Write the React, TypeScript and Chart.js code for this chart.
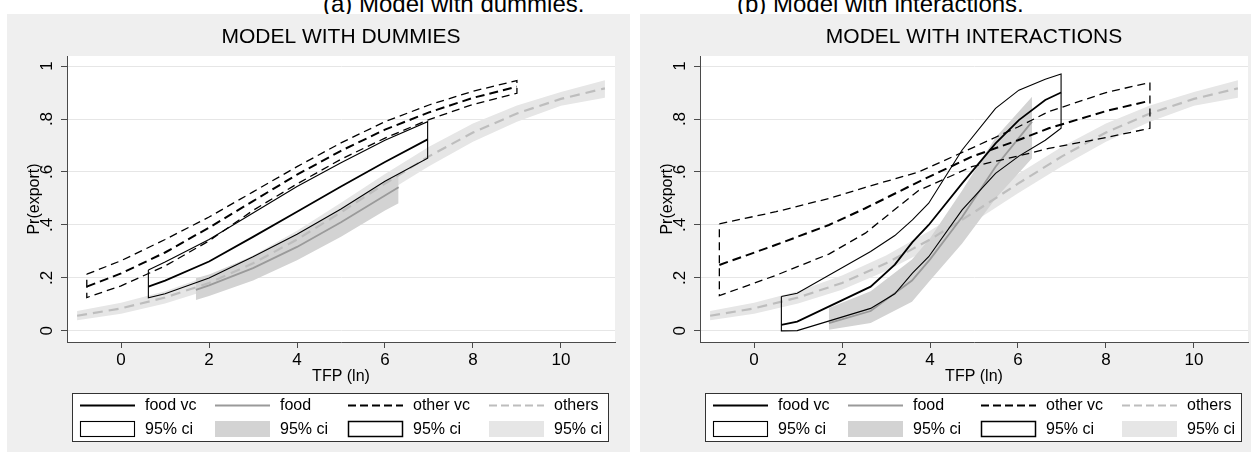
import React, { useEffect, useRef } from "react";
import { Chart, registerables } from "chart.js";

Chart.register(...registerables);

const FONT = "'Liberation Sans', Arial, Helvetica, sans-serif";

// ---------- axes ----------
const xTicks = [0, 2, 4, 6, 8, 10];
const yTicks = [0, 0.2, 0.4, 0.6, 0.8, 1];
const yTickLabels = ["0", ".2", ".4", ".6", ".8", "1"];

// ---------- shared: others (baseline group) ----------
const othersX = [-1, 0, 1, 2, 3, 4, 5, 6, 7, 8, 9, 10, 11];
const othersMid = [0.057, 0.085, 0.126, 0.181, 0.255, 0.345, 0.448, 0.556, 0.659, 0.749, 0.821, 0.876, 0.916];
const othersLo = [0.04, 0.065, 0.103, 0.155, 0.226, 0.312, 0.412, 0.52, 0.622, 0.714, 0.79, 0.85, 0.88];
const othersHi = [0.075, 0.106, 0.15, 0.209, 0.285, 0.378, 0.484, 0.592, 0.695, 0.783, 0.851, 0.902, 0.946];

// ---------- panel (a): model with dummies ----------
const dumFoodVcX = [0.62, 1, 2, 3, 4, 5, 6, 6.97];
const dumFoodVcMid = [0.167, 0.19, 0.262, 0.355, 0.45, 0.545, 0.638, 0.723];
const dumFoodVcLo = [0.125, 0.14, 0.2, 0.28, 0.365, 0.46, 0.565, 0.652];
const dumFoodVcHi = [0.23, 0.26, 0.345, 0.445, 0.545, 0.635, 0.72, 0.79];

const dumFoodX = [1.7, 2, 3, 4, 5, 6, 6.31];
const dumFoodMid = [0.155, 0.172, 0.237, 0.317, 0.41, 0.511, 0.542];
const dumFoodLo = [0.117, 0.132, 0.19, 0.267, 0.355, 0.455, 0.482];
const dumFoodHi = [0.199, 0.213, 0.282, 0.365, 0.46, 0.562, 0.589];

const dumOtherVcX = [-0.78, 0, 1, 2, 3, 4, 5, 6, 7, 8, 9];
const dumOtherVcMid = [0.167, 0.217, 0.296, 0.39, 0.49, 0.59, 0.68, 0.76, 0.825, 0.88, 0.922];
const dumOtherVcLo = [0.126, 0.17, 0.245, 0.34, 0.455, 0.555, 0.648, 0.728, 0.798, 0.855, 0.897];
const dumOtherVcHi = [0.214, 0.265, 0.345, 0.43, 0.525, 0.62, 0.71, 0.79, 0.853, 0.905, 0.945];

// ---------- panel (b): model with interactions ----------
const intFoodVcX = [0.62, 0.98, 2.65, 3.2, 3.6, 3.97, 4.73, 5.49, 6.02, 6.62, 6.98];
const intFoodVcMid = [0.023, 0.035, 0.167, 0.25, 0.335, 0.4, 0.557, 0.708, 0.796, 0.872, 0.9];
const intFoodVcLo = [0.0, 0.001, 0.085, 0.14, 0.218, 0.28, 0.457, 0.595, 0.66, 0.72, 0.765];
const intFoodVcHi = [0.13, 0.142, 0.3, 0.36, 0.419, 0.482, 0.683, 0.84, 0.909, 0.95, 0.97];

const intFoodX = [1.7, 2.65, 3.59, 4.0, 4.73, 5.49, 6.32];
const intFoodMid = [0.029, 0.075, 0.19, 0.27, 0.43, 0.62, 0.79];
const intFoodLo = [0.004, 0.03, 0.11, 0.19, 0.33, 0.5, 0.652];
const intFoodHi = [0.086, 0.15, 0.27, 0.35, 0.53, 0.73, 0.884];

const intOtherVcX = [-0.79, 0.5, 1.7, 2.53, 3.74, 4.95, 6, 6.7, 8, 9];
const intOtherVcMid = [0.249, 0.325, 0.4, 0.463, 0.563, 0.658, 0.72, 0.765, 0.83, 0.869];
const intOtherVcLo = [0.133, 0.21, 0.29, 0.369, 0.53, 0.62, 0.66, 0.689, 0.73, 0.765];
const intOtherVcHi = [0.404, 0.45, 0.5, 0.542, 0.6, 0.69, 0.77, 0.828, 0.9, 0.938];

// ---------- legend ----------
const legendLabels = ["food vc", "food", "other vc", "others"];
const ciLabel = "95% ci";

const COLORS = {
  panel: "#efefef",
  grid: "#e6e6e6",
  axis: "#4a4a4a",
  foodLine: "#9a9a9a",
  foodBand: "#d3d3d3",
  othersLine: "#bdbdbd",
  othersBand: "#e6e6e6",
};

type P = { x: number; y: number };
const pts = (xs: number[], ys: number[]): P[] => xs.map((x, i) => ({ x, y: ys[i] }));
const outline = (xs: number[], lo: number[], hi: number[]): P[] => {
  const p = pts(xs, hi);
  for (let i = xs.length - 1; i >= 0; i--) p.push({ x: xs[i], y: lo[i] });
  p.push({ x: xs[0], y: hi[0] });
  return p;
};

type PanelData = {
  title: string;
  fvcX: number[]; fvcMid: number[]; fvcLo: number[]; fvcHi: number[];
  fX: number[]; fMid: number[]; fLo: number[]; fHi: number[];
  ovcX: number[]; ovcMid: number[]; ovcLo: number[]; ovcHi: number[];
};

const panels: PanelData[] = [
  {
    title: "MODEL WITH DUMMIES",
    fvcX: dumFoodVcX, fvcMid: dumFoodVcMid, fvcLo: dumFoodVcLo, fvcHi: dumFoodVcHi,
    fX: dumFoodX, fMid: dumFoodMid, fLo: dumFoodLo, fHi: dumFoodHi,
    ovcX: dumOtherVcX, ovcMid: dumOtherVcMid, ovcLo: dumOtherVcLo, ovcHi: dumOtherVcHi,
  },
  {
    title: "MODEL WITH INTERACTIONS",
    fvcX: intFoodVcX, fvcMid: intFoodVcMid, fvcLo: intFoodVcLo, fvcHi: intFoodVcHi,
    fX: intFoodX, fMid: intFoodMid, fLo: intFoodLo, fHi: intFoodHi,
    ovcX: intOtherVcX, ovcMid: intOtherVcMid, ovcLo: intOtherVcLo, ovcHi: intOtherVcHi,
  },
];

function line(data: P[], color: string, width: number, dash: number[] = []) {
  return {
    data,
    showLine: true,
    borderColor: color,
    borderWidth: width,
    borderDash: dash,
    pointRadius: 0,
    pointHoverRadius: 0,
    fill: false,
    tension: 0,
  };
}

function buildDatasets(p: PanelData) {
  const none = "rgba(0,0,0,0)";
  return [
    line(pts(p.fvcX, p.fvcMid), "#000", 1.8),
    line(outline(p.fvcX, p.fvcLo, p.fvcHi), "#000", 1.1),
    line(pts(p.ovcX, p.ovcMid), "#000", 2, [9, 5]),
    line(outline(p.ovcX, p.ovcLo, p.ovcHi), "#000", 1.3, [8, 5]),
    line(pts(p.fX, p.fMid), COLORS.foodLine, 1.8),
    line(pts(othersX, othersMid), COLORS.othersLine, 2.2, [10, 6]),
    line(pts(p.fX, p.fLo), none, 0),
    { ...line(pts(p.fX, p.fHi), none, 0), fill: "-1", backgroundColor: COLORS.foodBand },
    line(pts(othersX, othersLo), none, 0),
    { ...line(pts(othersX, othersHi), none, 0), fill: "-1", backgroundColor: COLORS.othersBand },
  ];
}

function drawLegend(ctx: CanvasRenderingContext2D) {
  const L = 65, T = 379, R = 601, B = 427;
  const row1 = 391, row2 = 415;
  const cols = [73, 208, 341, 482];
  const sw = 55;
  ctx.save();
  ctx.fillStyle = "#fff";
  ctx.fillRect(L, T, R - L, B - T);
  ctx.strokeStyle = "#333";
  ctx.lineWidth = 1;
  ctx.strokeRect(L + 0.5, T + 0.5, R - L, B - T);

  const styles = [
    { color: "#000", width: 1.8, dash: [] as number[] },
    { color: COLORS.foodLine, width: 1.8, dash: [] as number[] },
    { color: "#000", width: 2, dash: [8, 4] },
    { color: COLORS.othersLine, width: 2, dash: [8, 4] },
  ];
  cols.forEach((cx, i) => {
    const s = styles[i];
    ctx.strokeStyle = s.color;
    ctx.lineWidth = s.width;
    ctx.setLineDash(s.dash);
    ctx.beginPath();
    ctx.moveTo(cx, row1 + 0.5);
    ctx.lineTo(cx + sw, row1 + 0.5);
    ctx.stroke();
    ctx.setLineDash([]);
    // CI swatch
    const by = row2 - 8;
    if (i === 1 || i === 3) {
      ctx.fillStyle = i === 1 ? COLORS.foodBand : COLORS.othersBand;
      ctx.fillRect(cx, by, sw, 16);
    } else {
      ctx.fillStyle = "#fff";
      ctx.fillRect(cx, by, sw, 16);
      ctx.strokeStyle = "#000";
      ctx.lineWidth = i === 0 ? 1.1 : 1.5;
      ctx.strokeRect(cx + 0.5, by + 0.5, sw - 1, 15);
    }
    ctx.fillStyle = "#000";
    ctx.font = `16px ${FONT}`;
    ctx.textAlign = "left";
    ctx.textBaseline = "middle";
    ctx.fillText(legendLabels[i], cx + sw + 10, row1 + 1);
    ctx.fillText(ciLabel, cx + sw + 10, row2 + 1);
  });
  ctx.restore();
}

function makeDecor(title: string) {
  return {
    id: "decor",
    beforeDraw(chart: any) {
      const { ctx, width, height, chartArea: a } = chart;
      ctx.save();
      ctx.fillStyle = COLORS.panel;
      ctx.fillRect(0, 0, width, height);
      ctx.fillStyle = "#fff";
      ctx.fillRect(a.left, a.top, a.right - a.left, a.bottom - a.top);
      ctx.restore();
    },
    afterDraw(chart: any) {
      const { ctx, chartArea: a } = chart;
      const yScale = chart.scales.y;
      ctx.save();
      // panel title
      ctx.fillStyle = "#000";
      ctx.font = `21px ${FONT}`;
      ctx.textAlign = "center";
      ctx.textBaseline = "middle";
      ctx.fillText(title, (a.left + a.right) / 2, 23);
      // y tick labels, rotated
      ctx.font = `17px ${FONT}`;
      yTicks.forEach((v, i) => {
        const py = yScale.getPixelForValue(v);
        ctx.save();
        ctx.translate(40, py);
        ctx.rotate(-Math.PI / 2);
        ctx.fillText(yTickLabels[i], 0, 0);
        ctx.restore();
      });
      // y title
      ctx.font = `16px ${FONT}`;
      ctx.save();
      ctx.translate(28, (a.top + a.bottom) / 2);
      ctx.rotate(-Math.PI / 2);
      ctx.fillText("Pr(export)", 0, 0);
      ctx.restore();
      ctx.restore();
      drawLegend(ctx);
    },
  };
}

function Panel({ data, left }: { data: PanelData; left: number }) {
  const ref = useRef<HTMLCanvasElement>(null);
  useEffect(() => {
    const chart = new Chart(ref.current as HTMLCanvasElement, {
      type: "scatter",
      data: { datasets: buildDatasets(data) as any },
      plugins: [makeDecor(data.title) as any],
      options: {
        animation: false,
        responsive: false,
        devicePixelRatio: 1,
        layout: { padding: { top: 42, right: 15, left: 0, bottom: 0 } },
        plugins: { legend: { display: false }, tooltip: { enabled: false } },
        scales: {
          x: {
            type: "linear",
            min: -1.23,
            max: 11.23,
            afterBuildTicks: (s: any) => {
              s.ticks = xTicks.map((v) => ({ value: v }));
            },
            afterFit: (s: any) => {
              s.height = 110;
            },
            ticks: {
              color: "#000",
              font: { size: 17, family: FONT },
              padding: 2,
              maxRotation: 0,
              autoSkip: false,
            },
            grid: { drawOnChartArea: false, tickColor: COLORS.axis, tickLength: 6 },
            border: { color: COLORS.axis, width: 1 },
            title: {
              display: true,
              text: "TFP (ln)",
              color: "#000",
              font: { size: 16, family: FONT },
              padding: { top: 0, bottom: 66 },
            },
          },
          y: {
            type: "linear",
            min: -0.042,
            max: 1.038,
            afterBuildTicks: (s: any) => {
              s.ticks = yTicks.map((v) => ({ value: v }));
            },
            afterFit: (s: any) => {
              s.width = 60;
            },
            ticks: { display: false },
            grid: { color: COLORS.grid, tickColor: COLORS.axis, tickLength: 6 },
            border: { color: COLORS.axis, width: 1 },
          },
        },
      } as any,
    });
    return () => chart.destroy();
  }, [data]);
  return (
    <canvas
      ref={ref}
      width={623}
      height={438}
      style={{ position: "absolute", left, top: 14, width: 623, height: 438, display: "block" }}
    />
  );
}

export default function App() {
  const capStyle: React.CSSProperties = {
    position: "absolute",
    top: -8,
    fontFamily: FONT,
    fontSize: 24,
    lineHeight: "24px",
    whiteSpace: "nowrap",
    color: "#000",
  };
  return (
    <div
      style={{
        position: "fixed",
        left: 0,
        top: 0,
        width: 1251,
        height: 455,
        overflow: "hidden",
        background: "#fff",
      }}
    >
      <div style={{ ...capStyle, left: 323 }}>(a) Model with dummies.</div>
      <div style={{ ...capStyle, left: 737 }}>(b) Model with interactions.</div>
      <Panel data={panels[0]} left={7} />
      <Panel data={panels[1]} left={640} />
    </div>
  );
}
